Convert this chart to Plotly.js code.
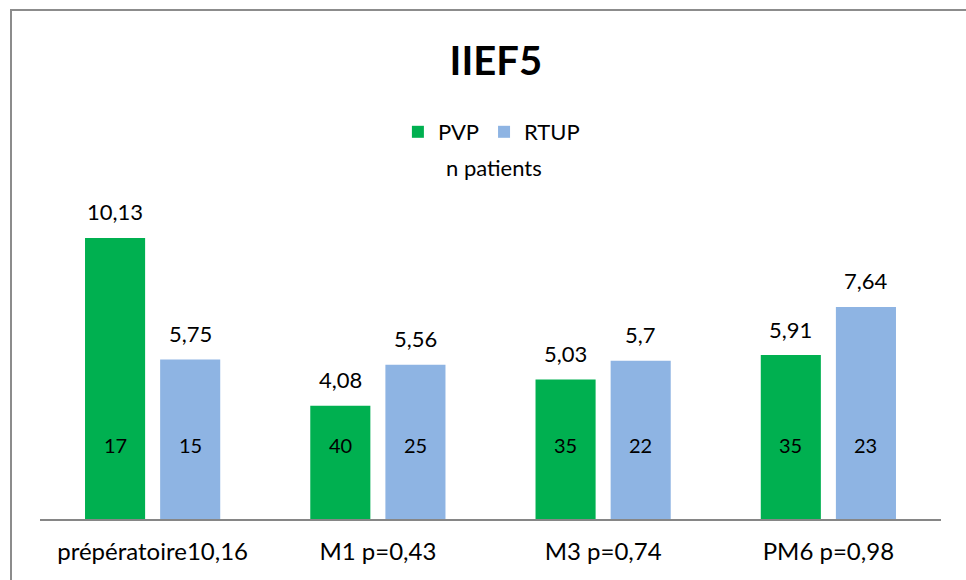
<!DOCTYPE html>
<html>
<head>
<meta charset="utf-8">
<script src="https://cdn.plot.ly/plotly-3.0.1.min.js"></script>
<style>
  html, body { margin: 0; padding: 0; background: #fff; }
  #wrap { position: relative; width: 966px; height: 580px; overflow: hidden; }
  #chart { position: absolute; left: 0; top: 0; width: 966px; height: 580px; }
  #frame { position: absolute; left: 10px; top: 9px; width: 1000px; height: 640px;
           border-left: 2px solid #8c8c8c; border-top: 2px solid #8c8c8c; pointer-events: none; }
</style>
</head>
<body>
<div id="wrap">
  <div id="chart"></div>
  <div id="frame"></div>
</div>
<script>
const categories = ["prépératoire10,16", "M1 p=0,43", "M3 p=0,74", "PM6 p=0,98"];
const pvpValues = [10.13, 4.08, 5.03, 5.91];
const rtupValues = [5.75, 5.56, 5.7, 7.64];
const pvpPatients = [17, 40, 35, 35];
const rtupPatients = [15, 25, 22, 23];

const fmt = v => String(v).replace('.', ',');
const FONT = 'Lato, "Open Sans", sans-serif';

const traces = [
  { type: 'bar', name: 'PVP', x: categories, y: pvpValues,
    marker: { color: '#00b050' }, hoverinfo: 'skip' },
  { type: 'bar', name: 'RTUP', x: categories, y: rtupValues,
    marker: { color: '#8eb4e3' }, hoverinfo: 'skip' }
];

const annotations = [];
categories.forEach((c, i) => {
  annotations.push({ x: c, y: pvpValues[i], xref: 'x', yref: 'y', text: fmt(pvpValues[i]),
    showarrow: false, xshift: -37.5, yshift: 26, yanchor: 'middle', font: { size: 22, color: '#000' } });
  annotations.push({ x: c, y: rtupValues[i], xref: 'x', yref: 'y', text: fmt(rtupValues[i]),
    showarrow: false, xshift: 37.5, yshift: 26, yanchor: 'middle', font: { size: 22, color: '#000' } });
  annotations.push({ x: c, y: 0, xref: 'x', yref: 'y', text: String(pvpPatients[i]),
    showarrow: false, xshift: -37.5, yshift: 74, yanchor: 'middle', font: { size: 20, color: '#000' } });
  annotations.push({ x: c, y: 0, xref: 'x', yref: 'y', text: String(rtupPatients[i]),
    showarrow: false, xshift: 37.5, yshift: 74, yanchor: 'middle', font: { size: 20, color: '#000' } });
});
annotations.push({ x: 0.504, y: 167, xref: 'paper', yref: 'paper', text: 'n patients', showarrow: false,
  font: { size: 22, color: '#000' }, yanchor: 'middle' });

const layout = {
  width: 966, height: 580,
  margin: { l: 40, r: 25, t: 186, b: 61 },
  paper_bgcolor: '#fff', plot_bgcolor: '#fff',
  font: { family: FONT, color: '#000' },
  title: { text: '<b>IIEF5</b>', font: { size: 40, color: '#000', family: FONT },
           x: 0.506, xanchor: 'center', y: 0.895, yanchor: 'middle', xref: 'paper' },
  barmode: 'group', bargap: 0.333, bargroupgap: 0.2,
  showlegend: true,
  legend: { orientation: 'h', x: 0.501, xanchor: 'center', y: 1.0, yanchor: 'middle',
            font: { size: 22, color: '#000' }, itemwidth: 30 },
  xaxis: { type: 'category', showline: true, linecolor: '#868686', linewidth: 2,
           ticks: '', showgrid: false, tickfont: { size: 24, color: '#000' },
           ticklabelstandoff: 10, fixedrange: true },
  yaxis: { range: [0, 12], visible: false, showgrid: false, zeroline: false, fixedrange: true },
  annotations: annotations
};
// place legend and "n patients" in pixel terms via paper fraction
const plotH = 580 - 186 - 61;
layout.legend.y = (519 - 132) / plotH;
layout.annotations[layout.annotations.length - 1].y = (519 - 167) / plotH;

Plotly.newPlot('chart', traces, layout, { displayModeBar: false, staticPlot: true });
</script>
</body>
</html>
